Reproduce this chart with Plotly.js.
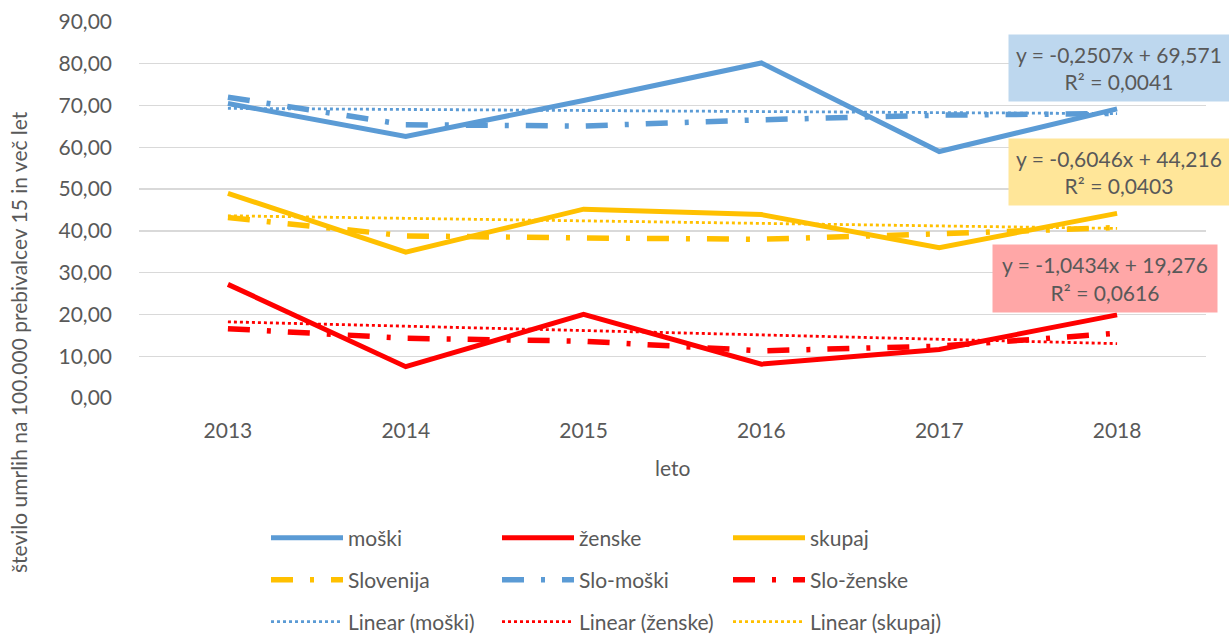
<!DOCTYPE html>
<html>
<head>
<meta charset="utf-8">
<script src="https://cdn.plot.ly/plotly-3.0.1.min.js"></script>
<style>
html,body{margin:0;padding:0;background:#fff;}
#chart{width:1229px;height:638px;}
</style>
</head>
<body>
<div id="chart"></div>
<script>
// ---- data ----
const years = ["2013", "2014", "2015", "2016", "2017", "2018"];
const moski = [70.5, 62.6, 71.2, 80.2, 59.0, 69.2];
const zenske = [27.2, 7.5, 20.0, 8.1, 11.6, 19.9];
const skupaj = [49.0, 34.9, 45.2, 43.9, 36.0, 44.2];
const slovenija = [43.2, 38.8, 38.3, 38.0, 39.3, 40.8];
const sloMoski = [72.0, 65.4, 65.1, 66.6, 67.7, 68.1];
const sloZenske = [16.6, 14.3, 13.6, 11.3, 12.4, 15.5];
// trendline coefficients as printed on the chart (x = 1..6)
const trendNames = ["Linear (moški)", "Linear (ženske)", "Linear (skupaj)"];
const trendSlope = [-0.2507, -1.0434, -0.6046];
const trendIntercept = [69.571, 19.276, 44.216];
const trendLabels = [
  "y = -0,2507x + 69,571<br>R² = 0,0041",
  "y = -1,0434x + 19,276<br>R² = 0,0616",
  "y = -0,6046x + 44,216<br>R² = 0,0403"
];
const yTickVals = [0, 10, 20, 30, 40, 50, 60, 70, 80, 90];
const yTickText = ["0,00", "10,00", "20,00", "30,00", "40,00", "50,00", "60,00", "70,00", "80,00", "90,00"];

// ---- styling ----
const BLUE = "#5B9BD5", RED = "#FF0000", YEL = "#FFC000";
const FONT = "Lato, 'Open Sans', sans-serif";
const TXT = "#595959";
const DASHDOT = "22px,17px,4px,17px";
const DOT = "3px,3px";

function trendY(i) {
  return years.map((_, k) => trendIntercept[i] + trendSlope[i] * (k + 1));
}

const traces = [
  {name: "moški", y: moski, line: {color: BLUE, width: 5}, legend: "legend"},
  {name: "ženske", y: zenske, line: {color: RED, width: 5}, legend: "legend"},
  {name: "skupaj", y: skupaj, line: {color: YEL, width: 5}, legend: "legend"},
  {name: "Slovenija", y: slovenija, line: {color: YEL, width: 5.5, dash: DASHDOT}, legend: "legend2"},
  {name: "Slo-moški", y: sloMoski, line: {color: BLUE, width: 5.5, dash: DASHDOT}, legend: "legend2"},
  {name: "Slo-ženske", y: sloZenske, line: {color: RED, width: 5.5, dash: DASHDOT}, legend: "legend2"},
  {name: trendNames[0], y: trendY(0), line: {color: BLUE, width: 2.8, dash: DOT}, legend: "legend3"},
  {name: trendNames[1], y: trendY(1), line: {color: RED, width: 2.8, dash: DOT}, legend: "legend3"},
  {name: trendNames[2], y: trendY(2), line: {color: YEL, width: 2.8, dash: DOT}, legend: "legend3"}
].map(t => Object.assign({type: "scatter", mode: "lines", x: years, hoverinfo: "skip"}, t));

const W = 1229, H = 638;
const L = 139, R = 1206, T = 22, B = 398;
const pw = R - L, ph = B - T;
const px = v => (v - L) / pw;
const py = v => (B - v) / ph;

function legendDef(rowY) {
  return {
    orientation: "h",
    xref: "container", yref: "container",
    x: 266 / W, xanchor: "left",
    y: 1 - rowY / H, yanchor: "middle",
    entrywidth: 144, entrywidthmode: "pixels",
    itemwidth: 72,
    font: {family: FONT, size: 21, color: TXT},
    bgcolor: "rgba(0,0,0,0)",
    traceorder: "normal"
  };
}

const boxColors = ["#BDD7EE", "#FFA7A7", "#FFE699"];
const boxCenters = [[1119, 68], [1105, 278.5], [1119, 172]];
const boxSizes = [[220, 66], [224, 67], [220, 66]];

const annotations = trendLabels.map((txt, i) => ({
  xref: "paper", yref: "paper",
  x: px(boxCenters[i][0]), y: py(boxCenters[i][1]),
  xanchor: "center", yanchor: "middle",
  text: txt, showarrow: false,
  width: boxSizes[i][0], height: boxSizes[i][1],
  bgcolor: boxColors[i], borderpad: 0,
  font: {family: FONT, size: 21, color: TXT}
}));
annotations.push({
  xref: "paper", yref: "paper",
  x: px(18), y: py(342), xanchor: "center", yanchor: "middle",
  textangle: -90, showarrow: false,
  text: "število umrlih na 100.000 prebivalcev 15 in več let",
  font: {family: FONT, size: 21, color: TXT}
});
annotations.push({
  xref: "paper", yref: "paper",
  x: px(672), y: py(467), xanchor: "center", yanchor: "middle",
  showarrow: false, text: "leto",
  font: {family: FONT, size: 21, color: TXT}
});

const layout = {
  width: W, height: H,
  margin: {l: L, r: W - R, t: T, b: H - B, pad: 0, autoexpand: false},
  paper_bgcolor: "#fff", plot_bgcolor: "#fff",
  font: {family: FONT, size: 21, color: TXT},
  showlegend: true,
  legend: legendDef(538),
  legend2: legendDef(580),
  legend3: legendDef(622),
  xaxis: {
    type: "category", range: [-0.5, 5.5], automargin: false,
    showgrid: false, zeroline: false, showline: false, ticks: "",
    ticklabelstandoff: 18,
    tickfont: {family: FONT, size: 21, color: TXT},
    fixedrange: true
  },
  yaxis: {
    range: [0, 90], tickvals: yTickVals, ticktext: yTickText, automargin: false,
    showgrid: true, gridcolor: "#D9D9D9", gridwidth: 1.3,
    zeroline: false, showline: false, ticks: "",
    ticklabelstandoff: 26,
    tickfont: {family: FONT, size: 21, color: TXT},
    fixedrange: true
  },
  annotations: annotations
};

Plotly.newPlot("chart", traces, layout, {displayModeBar: false, staticPlot: true});
</script>
</body>
</html>
